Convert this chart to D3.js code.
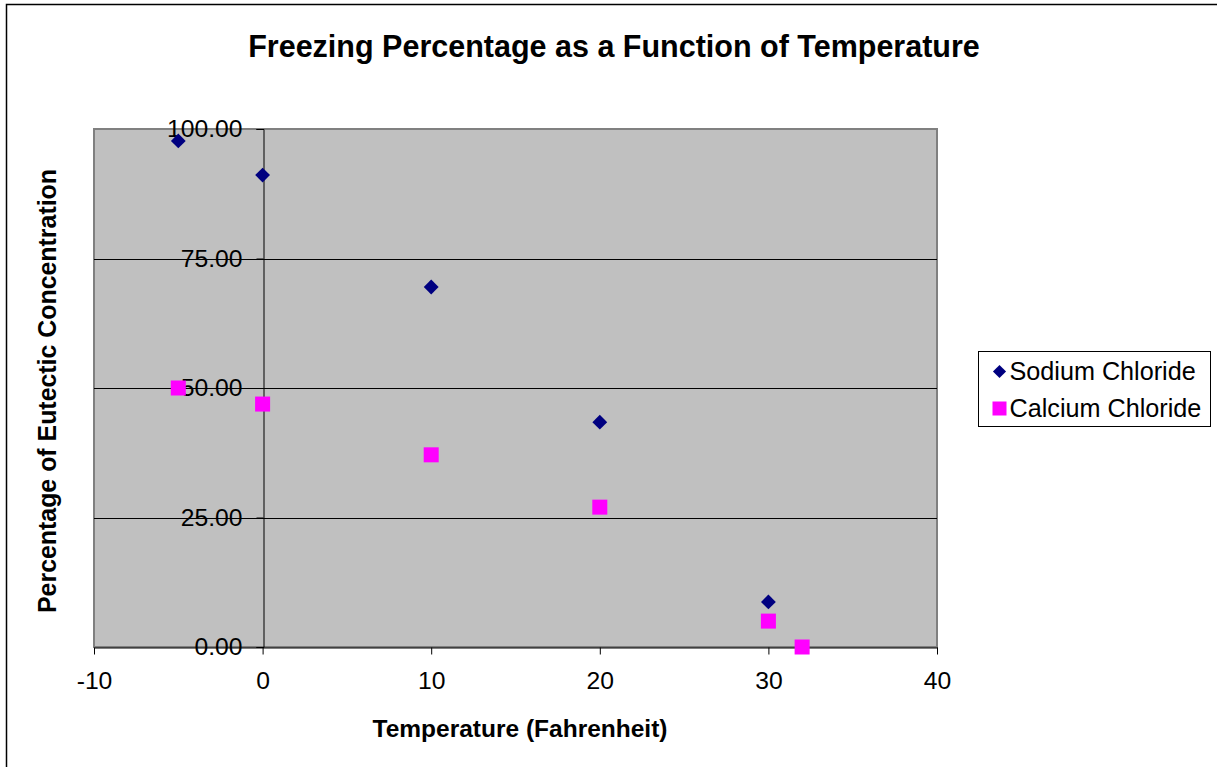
<!DOCTYPE html>
<html>
<head>
<meta charset="utf-8">
<script src="https://cdn.jsdelivr.net/npm/d3@7"></script>
<style>
  body { margin: 0; background: #fff; }
  svg { display: block; font-family: Arial, "Liberation Sans", sans-serif; }
</style>
</head>
<body>
<svg id="chart" width="1217" height="767"></svg>
<script>
// data
var temps = [-5, 0, 10, 20, 30];
var sodium = [97.7, 91.1, 69.5, 43.4, 8.7];
var calciumTemps = [-5, 0, 10, 20, 30, 32];
var calcium = [50.0, 46.9, 37.1, 27.0, 5.0, 0.0];
var xTicks = [-10, 0, 10, 20, 30, 40];
var yTicks = [0, 25, 50, 75, 100];
var seriesNames = ["Sodium Chloride", "Calcium Chloride"];

var svg = d3.select("#chart");

// chart border
svg.append("rect")
    .attr("x", 6.5).attr("y", 4.5)
    .attr("width", 1240).attr("height", 800)
    .attr("fill", "#fff").attr("stroke", "#000").attr("stroke-width", 1.5);

var plot = { left: 94, top: 129, right: 937, bottom: 647 };

var x = d3.scaleLinear()
    .domain([-10, 40])
    .range([plot.left, plot.right]);

var y = d3.scaleLinear()
    .domain([0, 100])
    .range([plot.bottom, plot.top]);

// plot area
svg.append("rect")
    .attr("x", plot.left).attr("y", plot.top)
    .attr("width", plot.right - plot.left).attr("height", plot.bottom - plot.top)
    .attr("fill", "#c0c0c0").attr("stroke", "#808080").attr("stroke-width", 2);

// gridlines
svg.selectAll("line.grid")
    .data(yTicks.filter(function (d) { return d > 0 && d < 100; }))
    .enter()
    .append("line")
    .attr("class", "grid")
    .attr("x1", plot.left).attr("x2", plot.right)
    .attr("y1", function (d) { return Math.round(y(d)) + 0.5; })
    .attr("y2", function (d) { return Math.round(y(d)) + 0.5; })
    .attr("stroke", "#000").attr("stroke-width", 1);

// y axis sits at x = 0
var yAxis = d3.axisLeft(y)
    .tickValues(yTicks)
    .tickSize(7)
    .tickPadding(14)
    .tickFormat(d3.format(".2f"));

var gy = svg.append("g")
    .attr("transform", "translate(" + (Math.round(x(0)) + 0.5) + ",0)")
    .call(yAxis);
gy.selectAll("text").attr("font-size", 24.7).attr("fill", "#000").attr("font-family", "Arial, 'Liberation Sans', sans-serif");
gy.selectAll("line, path").attr("stroke", "#000");

// x axis at y = 0
var xAxis = d3.axisBottom(x)
    .tickValues(xTicks)
    .tickSize(7)
    .tickPadding(17)
    .tickSizeOuter(0)
    .tickFormat(function (d) { return String(d); });

var gx = svg.append("g")
    .attr("transform", "translate(0," + (Math.round(y(0)) + 0.5) + ")")
    .call(xAxis);
gx.selectAll("text").attr("font-size", 24.7).attr("fill", "#000").attr("font-family", "Arial, 'Liberation Sans', sans-serif");
gx.selectAll("line, path").attr("stroke", "#000");

// markers
var diamond = d3.symbol().type(d3.symbolDiamond2).size(140);

svg.selectAll("path.sodium")
    .data(temps)
    .enter()
    .append("path")
    .attr("class", "sodium")
    .attr("d", diamond)
    .attr("transform", function (d, i) { return "translate(" + x(d) + "," + y(sodium[i]) + ")"; })
    .attr("fill", "#000080");

svg.selectAll("rect.calcium")
    .data(calciumTemps)
    .enter()
    .append("rect")
    .attr("class", "calcium")
    .attr("x", function (d) { return x(d) - 7.5; })
    .attr("y", function (d, i) { return y(calcium[i]) - 7.5; })
    .attr("width", 15).attr("height", 15)
    .attr("fill", "#ff00ff");

// title and axis labels
svg.append("text")
    .attr("x", 614).attr("y", 57)
    .attr("text-anchor", "middle")
    .attr("font-size", 30.5).attr("font-weight", "bold")
    .text("Freezing Percentage as a Function of Temperature");

svg.append("text")
    .attr("x", 520).attr("y", 737)
    .attr("text-anchor", "middle")
    .attr("font-size", 24.5).attr("font-weight", "bold")
    .text("Temperature (Fahrenheit)");

svg.append("text")
    .attr("transform", "translate(56,391) rotate(-90)")
    .attr("text-anchor", "middle")
    .attr("font-size", 24.9).attr("font-weight", "bold")
    .text("Percentage of Eutectic Concentration");

// legend
var legend = svg.append("g").attr("transform", "translate(978.5,351.5)");
legend.append("rect")
    .attr("width", 232).attr("height", 75)
    .attr("fill", "#fff").attr("stroke", "#000").attr("stroke-width", 1);

legend.append("path")
    .attr("d", d3.symbol().type(d3.symbolDiamond2).size(110))
    .attr("transform", "translate(21,20)")
    .attr("fill", "#000080");
legend.append("rect")
    .attr("x", 14).attr("y", 50).attr("width", 14).attr("height", 14)
    .attr("fill", "#ff00ff");

legend.selectAll("text")
    .data(seriesNames)
    .enter()
    .append("text")
    .attr("x", 31)
    .attr("y", function (d, i) { return 28 + i * 37; })
    .attr("font-size", 25.2)
    .text(function (d) { return d; });
</script>
</body>
</html>
